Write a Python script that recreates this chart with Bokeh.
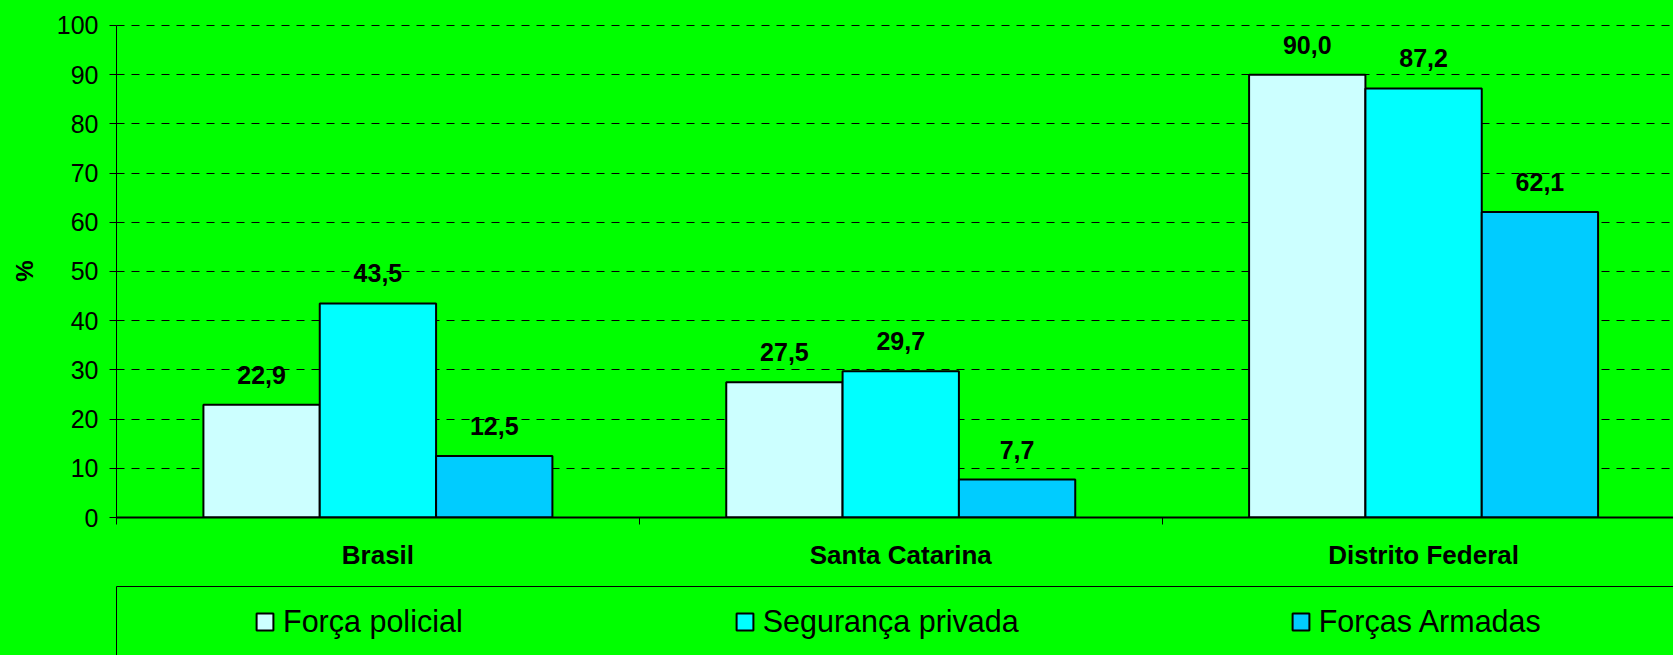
from bokeh.plotting import figure
from bokeh.models import (Range1d, ColumnDataSource, FixedTicker, Legend, LegendItem)
from bokeh.layouts import column
from bokeh.transform import dodge
from bokeh.core.properties import value
from bokeh.embed import file_html
from bokeh.resources import INLINE

# ---- data ----
categories = ["Brasil", "Santa Catarina", "Distrito Federal"]
series_names = ["Força policial", "Segurança privada", "Forças Armadas"]
forca_policial = [22.9, 27.5, 90.0]
seguranca_privada = [43.5, 29.7, 87.2]
forcas_armadas = [12.5, 7.7, 62.1]
y_ticks = [0, 10, 20, 30, 40, 50, 60, 70, 80, 90, 100]

# ---- style ----
colors = ["#CCFFFF", "#00FFFF", "#00CCFF"]
BG = "#00FF00"
FONT = "Liberation Sans"

series = [forca_policial, seguranca_privada, forcas_armadas]
centers = [i + 0.5 for i in range(len(categories))]
boundaries = [i for i in range(len(categories) + 1)]
bar_w = 0.2225
offsets = [-bar_w, 0.0, bar_w]

p = figure(width=1673, height=586,
           x_range=Range1d(0, 2.978), y_range=Range1d(0, 100.2),
           output_backend="svg", toolbar_location=None,
           min_border_left=116, min_border_top=24, min_border_right=0, min_border_bottom=69,
           background_fill_color=BG, border_fill_color=BG, outline_line_color=None)
p.styles = {"background-color": BG}

# grid
p.xgrid.grid_line_color = None
p.ygrid.ticker = FixedTicker(ticks=y_ticks)
p.ygrid.grid_line_color = "black"
p.ygrid.grid_line_width = 1
p.ygrid.grid_line_dash = "8 7"

# y axis
yax = p.yaxis[0]
yax.ticker = FixedTicker(ticks=y_ticks, minor_ticks=[])
yax.bounds = (0, 100)
yax.axis_line_color = "black"
yax.axis_line_width = 1
yax.major_tick_line_color = "black"
yax.major_tick_out = 7
yax.major_tick_in = 0
yax.minor_tick_line_color = None
yax.major_label_text_font = FONT
yax.major_label_text_font_size = "25px"
yax.major_label_text_color = "black"
yax.major_label_standoff = 11
yax.axis_label = "%"
yax.axis_label_text_font = FONT
yax.axis_label_text_font_style = "bold"
yax.axis_label_text_font_size = "24px"
yax.axis_label_text_color = "black"
yax.axis_label_standoff = 16

# x axis
xax = p.xaxis[0]
xax.ticker = FixedTicker(ticks=centers, minor_ticks=boundaries)
xax.major_label_overrides = {c: name for c, name in zip(centers, categories)}
xax.axis_line_color = "black"
xax.axis_line_width = 2
xax.major_tick_out = 0
xax.major_tick_in = 0
xax.major_tick_line_color = None
xax.minor_tick_line_color = "black"
xax.minor_tick_out = 7
xax.minor_tick_in = 0
xax.major_label_text_font = FONT
xax.major_label_text_font_style = "bold"
xax.major_label_text_font_size = "26px"
xax.major_label_text_color = "black"
xax.major_label_standoff = 15

# bars and labels
for vals, off, col in zip(series, offsets, colors):
    src = ColumnDataSource(dict(x=centers, top=vals,
                                label=[f"{v:.1f}".replace(".", ",") for v in vals]))
    p.vbar(x=dodge("x", off, range=p.x_range), top="top", bottom=0, width=bar_w,
           source=src, fill_color=col, line_color="black", line_width=2)
    p.text(x=dodge("x", off, range=p.x_range), y="top", text="label", source=src,
           text_align="center", text_baseline="alphabetic", y_offset=-30,
           text_font=value(FONT), text_font_style="bold", text_font_size="25px",
           text_color="black")

# ---- legend panel ----
p2 = figure(width=1673, height=69,
            x_range=Range1d(100, 101), y_range=Range1d(1000, 1001),
            output_backend="svg", toolbar_location=None,
            x_axis_location="above", y_axis_location="left",
            min_border_left=116, min_border_top=0, min_border_right=0, min_border_bottom=0,
            background_fill_color=BG, border_fill_color=BG, outline_line_color=None)
p2.styles = {"background-color": BG}
p2.grid.grid_line_color = None
for ax in (p2.xaxis[0], p2.yaxis[0]):
    ax.ticker = FixedTicker(ticks=[], minor_ticks=[])
    ax.axis_line_color = "black"
    ax.axis_line_width = 1
    ax.major_tick_out = 0
    ax.major_tick_in = 0
    ax.minor_tick_out = 0
    ax.minor_tick_in = 0
    ax.major_tick_line_color = None
    ax.minor_tick_line_color = None
    ax.major_label_standoff = 0

items = []
for name, vals, col in zip(series_names, series, colors):
    r = p2.vbar(x=centers, top=vals, bottom=0, width=bar_w,
                fill_color=col, line_color="black", line_width=2)
    items.append(LegendItem(label=name, renderers=[r]))

legend = Legend(items=items, orientation="horizontal", location=(138, 16),
                label_text_font=FONT, label_text_font_size="30.5px", label_text_color="black",
                label_standoff=8, glyph_width=21, glyph_height=21, label_height=36,
                spacing=271, padding=0, margin=0,
                border_line_color=None, background_fill_alpha=0)
p2.add_layout(legend, "center")

layout = column(p, p2, spacing=0)
layout.styles = {"background-color": BG}
open("out.html", "w").write(file_html(layout, INLINE))
